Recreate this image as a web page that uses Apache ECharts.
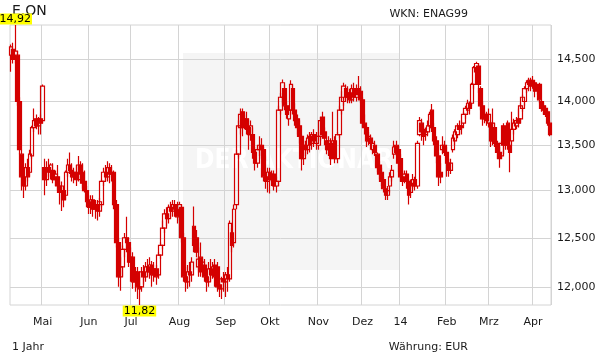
<!DOCTYPE html>
<html><head><meta charset="utf-8">
<script src="https://cdn.jsdelivr.net/npm/echarts@6/dist/echarts.min.js"></script>
<style>html,body{margin:0;padding:0;background:#fff}#c{width:611px;height:364px}</style>
</head><body><div id="c"></div>
<script>
// Daily OHLC, E.ON, 10.04.2013 - 10.04.2014 (EUR)
const opens=[
14.55,14.62,14.50,14.55,14.00,13.40,13.15,13.05,13.25,13.20,
13.38,13.70,13.80,13.72,13.80,13.78,13.25,13.12,13.25,13.20,
13.22,13.12,13.15,13.05,12.98,13.00,12.95,13.20,13.28,13.22,
13.15,13.20,13.12,13.28,13.20,13.10,13.00,12.88,12.82,12.90,
12.80,12.85,12.78,12.85,13.10,13.20,13.15,13.25,13.18,13.20,
12.85,12.45,12.10,12.20,12.38,12.50,12.45,12.25,12.30,12.05,
12.15,12.00,12.00,12.15,12.10,12.20,12.15,12.22,12.12,12.18,
12.12,12.32,12.42,12.60,12.75,12.70,12.82,12.78,12.85,12.80,
12.75,12.82,12.50,12.10,12.05,12.15,12.12,12.62,12.50,12.20,
12.30,12.18,12.22,12.10,12.05,12.18,12.12,12.22,12.20,12.02,
11.98,12.08,12.05,12.12,12.08,12.55,12.45,12.85,13.40,13.70,
13.88,13.72,13.80,13.70,13.62,13.62,13.42,13.30,13.45,13.50,
13.45,13.15,13.10,13.20,13.12,13.18,13.05,13.10,13.90,14.05,
14.15,13.95,13.80,13.90,14.15,13.90,13.80,13.72,13.60,13.35,
13.50,13.45,13.60,13.52,13.62,13.52,13.50,13.60,13.82,13.65,
13.55,13.45,13.52,13.40,13.55,13.35,13.62,13.90,14.00,14.15,
14.05,14.10,14.02,14.15,14.05,14.15,14.12,14.02,13.75,13.70,
13.55,13.58,13.45,13.50,13.40,13.28,13.20,13.12,13.02,12.95,
13.05,13.15,13.40,13.50,13.45,13.35,13.15,13.12,13.18,13.10,
12.98,13.05,13.12,13.05,13.62,13.75,13.68,13.62,13.65,13.72,
13.90,13.70,13.55,13.38,13.20,13.45,13.50,13.42,13.30,13.22,
13.45,13.55,13.62,13.72,13.72,13.75,13.85,13.90,13.98,13.98,
14.20,14.35,14.42,14.15,13.95,13.80,13.85,13.75,13.75,13.55,
13.70,13.52,13.42,13.38,13.72,13.50,13.75,13.50,13.55,13.68,
13.72,13.80,13.80,13.92,14.00,14.15,14.25,14.25,14.25,14.22,
14.15,14.20,14.00,13.95,13.92,13.88,13.75];
const closes=[
14.65,14.50,14.60,14.00,13.45,13.15,13.05,13.25,13.15,13.40,
13.70,13.78,13.72,13.80,13.75,14.18,13.12,13.25,13.20,13.28,
13.12,13.18,13.05,12.98,13.05,12.90,13.20,13.28,13.22,13.15,
13.20,13.12,13.28,13.18,13.08,13.00,12.88,12.82,12.90,12.80,
12.85,12.78,12.88,13.10,13.20,13.15,13.25,13.18,13.20,12.85,
12.45,12.10,12.20,12.38,12.50,12.45,12.25,12.30,12.05,12.15,
12.00,11.98,12.15,12.10,12.20,12.15,12.22,12.12,12.18,12.10,
12.32,12.42,12.60,12.75,12.70,12.82,12.78,12.85,12.80,12.72,
12.85,12.50,12.10,12.05,12.15,12.12,12.25,12.42,12.35,12.28,
12.15,12.25,12.10,12.05,12.18,12.12,12.20,12.10,12.00,11.98,
12.08,12.05,12.12,12.08,12.65,12.42,12.80,13.40,13.72,13.85,
13.70,13.80,13.68,13.62,13.72,13.42,13.30,13.45,13.50,13.45,
13.15,13.10,13.20,13.12,13.18,13.05,13.10,13.90,14.05,14.22,
13.95,13.85,13.90,14.20,13.90,13.78,13.70,13.60,13.35,13.50,
13.45,13.58,13.50,13.62,13.55,13.60,13.60,13.78,13.62,13.58,
13.45,13.55,13.35,13.55,13.35,13.62,13.90,14.05,14.18,14.05,
14.10,14.02,14.15,14.05,14.15,14.08,14.02,13.75,13.70,13.55,
13.60,13.52,13.52,13.42,13.25,13.18,13.10,13.02,12.95,13.00,
13.15,13.22,13.48,13.42,13.30,13.15,13.10,13.18,13.10,12.95,
13.08,13.12,13.05,13.52,13.78,13.65,13.60,13.65,13.72,13.85,
13.70,13.55,13.38,13.15,13.15,13.50,13.42,13.30,13.22,13.30,
13.58,13.65,13.72,13.68,13.70,13.85,13.92,13.98,13.92,14.20,
14.40,14.45,14.20,13.95,13.80,13.85,13.78,13.85,13.55,13.75,
13.52,13.42,13.35,13.52,13.50,13.58,13.50,13.42,13.68,13.75,
13.78,13.75,13.95,14.05,14.15,14.22,14.20,14.18,14.20,14.12,
14.18,14.02,13.92,13.90,13.85,13.75,13.62];
const lows=[
14.35,14.45,14.45,13.95,13.40,13.00,12.92,13.00,13.10,13.15,
13.35,13.65,13.68,13.62,13.62,13.75,12.95,13.05,13.15,13.12,
13.08,13.05,13.00,12.85,12.78,12.82,12.90,13.15,13.18,13.10,
13.08,13.05,13.10,13.12,13.02,12.98,12.82,12.75,12.75,12.72,
12.70,12.68,12.72,12.82,13.05,13.10,13.10,13.08,13.10,12.80,
12.40,12.00,11.96,12.10,12.30,12.35,12.20,12.05,11.98,11.95,
11.88,11.82,11.95,12.02,12.05,12.10,12.08,12.00,12.05,12.02,
12.08,12.28,12.38,12.55,12.62,12.65,12.70,12.72,12.72,12.65,
12.68,12.45,12.05,11.95,11.98,12.00,12.05,12.35,12.30,12.10,
12.10,12.12,12.05,11.95,12.00,12.05,12.08,12.00,11.95,11.90,
11.88,11.95,11.90,11.95,12.05,12.35,12.40,12.80,13.35,13.62,
13.60,13.68,13.62,13.45,13.55,13.35,13.22,13.25,13.38,13.35,
13.10,13.02,12.98,12.97,13.05,13.00,12.98,13.05,13.85,13.98,
13.90,13.80,13.72,13.85,13.85,13.72,13.62,13.52,13.22,13.28,
13.38,13.40,13.42,13.45,13.48,13.45,13.45,13.55,13.58,13.50,
13.40,13.38,13.28,13.35,13.30,13.30,13.58,13.85,13.95,14.00,
13.98,13.98,13.98,14.00,14.00,14.02,13.98,13.70,13.62,13.48,
13.50,13.45,13.40,13.38,13.20,13.12,13.05,12.98,12.90,12.90,
12.98,13.10,13.35,13.38,13.20,13.10,13.05,13.08,13.02,12.85,
12.92,13.02,13.00,13.02,13.60,13.55,13.50,13.55,13.60,13.68,
13.65,13.50,13.30,13.05,13.08,13.40,13.38,13.15,13.15,13.18,
13.42,13.50,13.58,13.62,13.62,13.72,13.80,13.85,13.85,13.95,
14.15,14.30,14.10,13.90,13.72,13.75,13.72,13.70,13.48,13.50,
13.48,13.35,13.25,13.35,13.40,13.45,13.45,13.20,13.50,13.62,
13.68,13.70,13.75,13.88,13.95,14.10,14.12,14.12,14.15,14.05,
14.08,13.98,13.88,13.85,13.82,13.72,13.60];
const highs=[
14.68,14.70,14.92,14.60,14.05,13.45,13.25,13.30,13.35,13.45,
13.72,13.92,13.85,13.82,13.85,14.20,13.35,13.32,13.35,13.30,
13.30,13.22,13.28,13.10,13.10,13.05,13.22,13.35,13.42,13.30,
13.25,13.28,13.38,13.32,13.30,13.22,13.05,12.95,12.95,12.95,
12.90,12.90,12.92,13.12,13.25,13.28,13.32,13.30,13.28,13.22,
12.90,12.50,12.30,12.42,12.55,12.72,12.50,12.40,12.35,12.20,
12.20,12.10,12.20,12.22,12.25,12.28,12.30,12.26,12.25,12.22,
12.35,12.45,12.68,12.80,12.82,12.85,12.88,12.90,12.90,12.88,
12.88,12.85,12.55,12.20,12.22,12.25,12.30,12.83,12.58,12.40,
12.45,12.30,12.28,12.15,12.25,12.28,12.25,12.28,12.25,12.08,
12.10,12.15,12.15,12.20,12.68,12.60,12.85,13.45,13.78,13.92,
13.92,13.85,13.88,13.80,13.78,13.70,13.48,13.50,13.60,13.58,
13.48,13.22,13.25,13.25,13.22,13.22,13.15,13.95,14.10,14.26,
14.20,14.00,13.95,14.25,14.20,13.98,13.85,13.78,13.62,13.55,
13.55,13.62,13.65,13.65,13.68,13.65,13.65,13.82,13.88,13.70,
13.60,13.60,13.58,13.88,13.60,13.65,13.95,14.12,14.22,14.20,
14.18,14.15,14.20,14.22,14.20,14.30,14.18,14.05,13.85,13.72,
13.65,13.62,13.55,13.55,13.42,13.32,13.25,13.15,13.05,13.05,
13.20,13.28,13.55,13.55,13.50,13.40,13.22,13.22,13.22,13.12,
13.12,13.18,13.15,13.55,13.82,13.80,13.72,13.70,13.78,13.88,
13.97,13.75,13.60,13.42,13.30,13.60,13.55,13.48,13.35,13.35,
13.62,13.68,13.75,13.78,13.78,13.88,13.95,14.02,14.00,14.22,
14.42,14.47,14.45,14.18,14.00,13.90,13.88,13.92,13.78,13.92,
13.75,13.55,13.48,13.55,13.75,13.62,13.78,13.55,13.88,13.80,
13.82,13.92,13.98,14.08,14.18,14.25,14.28,14.28,14.30,14.25,
14.20,14.22,14.02,13.98,13.95,13.90,13.78];
const yTicks=[12,12.5,13,13.5,14,14.5];
const monthNames=['14','Feb','Mrz','Apr','Mai','Jun','Jul','Aug','Sep','Okt','Nov','Dez'];
const holidays=['2013-05-01','2013-12-24','2013-12-25','2013-12-26','2013-12-31','2014-01-01'];

// trading-day categories
const dates=[];
let d=new Date(Date.UTC(2013,3,10));
while(dates.length<opens.length){
  const wd=d.getUTCDay(), s=d.toISOString().slice(0,10);
  if(wd!==0&&wd!==6&&holidays.indexOf(s)<0) dates.push(s);
  d=new Date(d.getTime()+86400000);
}
const isMonthStart=i=>i>0&&dates[i].slice(5,7)!==dates[i-1].slice(5,7);
const ln=Math.log;
const candle=opens.map((o,i)=>[ln(o),ln(closes[i]),ln(lows[i]),ln(highs[i])]);
const maxH=Math.max(...highs), minL=Math.min(...lows);
const iMax=highs.indexOf(maxH), iMin=lows.indexOf(minL);
const fmt2=v=>v.toFixed(2).replace('.',',');
const RED='#d40000', GRID='#d4d4d4', TXT='#1a1a1a', FONT='DejaVu Sans';

const chart=echarts.init(document.getElementById('c'),null,{renderer:'canvas'});
chart.setOption({
  animation:false,
  backgroundColor:'#ffffff',
  grid:{left:10,right:60,top:25,bottom:59,show:true,borderColor:GRID,borderWidth:1,backgroundColor:'rgba(0,0,0,0)'},
  xAxis:{type:'category',data:dates,boundaryGap:true,
    axisLine:{show:false},axisTick:{show:false},
    axisLabel:{interval:(i)=>isMonthStart(i),formatter:v=>monthNames[+v.slice(5,7)-1],
      color:TXT,fontFamily:FONT,fontSize:11,margin:12},
    splitLine:{show:true,interval:(i)=>isMonthStart(i),lineStyle:{color:GRID,width:1}}},
  yAxis:{type:'value',position:'right',min:ln(minL),max:ln(maxH),
    axisLine:{show:false},
    axisTick:{show:false,customValues:yTicks.map(ln)},
    axisLabel:{customValues:yTicks.map(ln),formatter:v=>Math.exp(v).toFixed(3).replace('.',','),
      color:TXT,fontFamily:FONT,fontSize:11,margin:6},
    splitLine:{show:true,lineStyle:{color:GRID,width:1}}},
  graphic:[
    {type:'rect',z:-10,silent:true,shape:{x:183,y:53,width:217,height:217},style:{fill:'#f5f5f5'}},
    {type:'text',z:-9,silent:true,x:294,y:161,style:{text:'DER AKTIONÄR',fill:'#ffffff',
      font:'bold 26px "DejaVu Sans Condensed", "DejaVu Sans"',align:'center',verticalAlign:'middle'}},
    {type:'text',z:10,x:12,y:4,style:{text:'E.ON',fill:TXT,font:'14px "DejaVu Sans"',align:'left',verticalAlign:'top'}},
    {type:'text',z:10,x:468,y:14,style:{text:'WKN: ENAG99',fill:TXT,font:'11px "DejaVu Sans"',align:'right',verticalAlign:'middle'}},
    {type:'text',z:10,x:12,y:347,style:{text:'1 Jahr',fill:TXT,font:'11px "DejaVu Sans"',align:'left',verticalAlign:'middle'}},
    {type:'text',z:10,x:468,y:347,style:{text:'Währung: EUR',fill:TXT,font:'11px "DejaVu Sans"',align:'right',verticalAlign:'middle'}}
  ],
  series:[{type:'candlestick',data:candle,barWidth:4,clip:false,
    itemStyle:{color:'rgba(255,255,255,0)',color0:RED,borderColor:RED,borderColor0:RED,borderWidth:1.2},
    markPoint:{symbol:'rect',symbolSize:1,z:20,itemStyle:{color:'rgba(0,0,0,0)'},
      label:{show:true,formatter:'{c}',backgroundColor:'#ffff00',color:'#000',fontFamily:FONT,fontSize:11,
        lineHeight:11,padding:[0,1,0,1]},
      data:[
        {coord:[iMax,ln(maxH)],value:fmt2(maxH),label:{position:'top',distance:0}},
        {coord:[iMin,ln(minL)],value:fmt2(minL),label:{position:'bottom',distance:0}}
      ]}
  }]
});
</script></body></html>
